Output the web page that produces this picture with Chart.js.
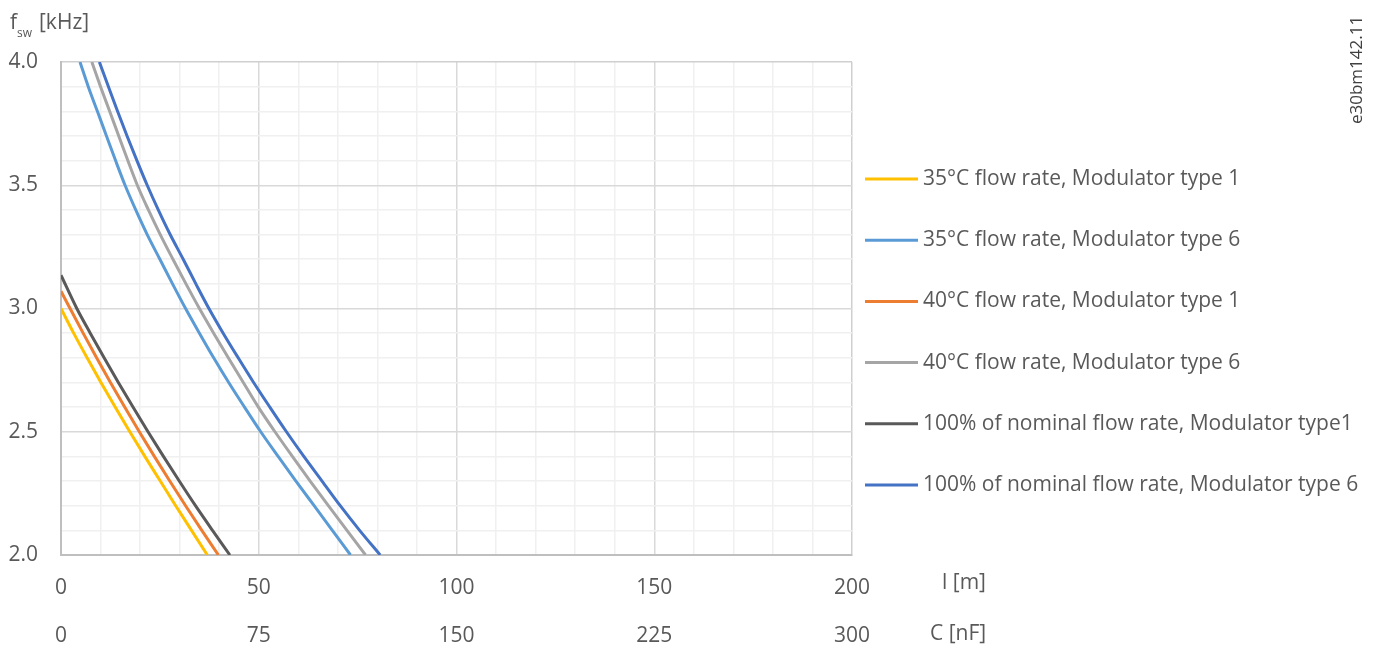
<!DOCTYPE html>
<html>
<head>
<meta charset="utf-8">
<script src="https://cdn.jsdelivr.net/npm/chart.js@4.4.0/dist/chart.umd.min.js"></script>
<style>
  html, body { margin: 0; padding: 0; background: #fff; }
  #wrap { width: 1387px; height: 648px; }
</style>
</head>
<body>
<div id="wrap"><canvas id="chart" width="1387" height="648"></canvas></div>
<script>
// switching frequency [kHz] vs. motor cable length [m]

// upper group (modulator type 6), all start at the 4.0 kHz edge
const fswUpper = [4.0, 3.9, 3.8, 3.7, 3.6, 3.5, 3.4, 3.3, 3.2, 3.1, 3.0, 2.9, 2.8, 2.7, 2.6, 2.5, 2.4, 2.3, 2.2, 2.1, 2.0];
const len35Mod6 = [4.8, 6.9, 9.2, 11.5, 13.8, 16.2, 18.9, 21.8, 25.0, 28.2, 31.5, 35.0, 38.6, 42.4, 46.4, 50.5, 54.9, 59.4, 64.0, 68.6, 73.2];
const len40Mod6 = [7.8, 10.0, 12.3, 14.6, 16.9, 19.3, 22.1, 25.1, 28.3, 31.6, 35.0, 38.6, 42.3, 46.1, 49.9, 54.1, 58.5, 63.0, 67.6, 72.3, 77.0];
const lenNomMod6 = [9.7, 12.0, 14.3, 16.7, 19.2, 21.8, 24.6, 27.6, 30.9, 34.1, 37.4, 41.0, 44.8, 48.7, 52.8, 57.0, 61.4, 66.0, 70.6, 75.5, 80.7];

// lower group (modulator type 1), start on the 0 m axis
const fsw35Mod1 = [3.0, 2.9, 2.8, 2.7, 2.6, 2.5, 2.4, 2.3, 2.2, 2.1, 2.0];
const len35Mod1 = [0, 3.2, 6.6, 10.1, 13.7, 17.4, 21.2, 25.1, 29.0, 33.0, 37.0];
const fsw40Mod1 = [3.07, 3.0, 2.9, 2.8, 2.7, 2.6, 2.5, 2.4, 2.3, 2.2, 2.1, 2.0];
const len40Mod1 = [0, 2.3, 5.6, 9.0, 12.5, 16.1, 19.8, 23.6, 27.5, 31.5, 35.6, 39.8];
const fswNomMod1 = [3.135, 3.0, 2.9, 2.8, 2.7, 2.6, 2.5, 2.4, 2.3, 2.2, 2.1, 2.0];
const lenNomMod1 = [0, 4.0, 7.4, 10.9, 14.5, 18.2, 22.0, 25.9, 29.9, 34.0, 38.3, 42.7];

const seriesLabels = [
  '35°C flow rate, Modulator type 1',
  '35°C flow rate, Modulator type 6',
  '40°C flow rate, Modulator type 1',
  '40°C flow rate, Modulator type 6',
  '100% of nominal flow rate, Modulator type1',
  '100% of nominal flow rate, Modulator type 6'
];
const seriesColors = ['#FFC000', '#5B9BD5', '#ED7D31', '#A5A5A5', '#595959', '#4472C4'];

// axis ranges
const lengthTicks = [0, 50, 100, 150, 200];     // l [m]
const capTicks = [0, 75, 150, 225, 300];        // C [nF]
const fswTicks = [2.0, 2.5, 3.0, 3.5, 4.0];

const FONT = "'Open Sans', 'Noto Sans', sans-serif";
const TEXT = '#595959';

function pairs(xs, ys) {
  return xs.map((x, i) => ({ x: x, y: ys[i] }));
}

const seriesData = [
  pairs(len35Mod1, fsw35Mod1),
  pairs(len35Mod6, fswUpper),
  pairs(len40Mod1, fsw40Mod1),
  pairs(len40Mod6, fswUpper),
  pairs(lenNomMod1, fswNomMod1),
  pairs(lenNomMod6, fswUpper)
];

// texts around the plot: axis titles, legend, drawing number
const decorations = {
  id: 'decorations',
  afterDraw(chart) {
    const ctx = chart.ctx;
    const area = chart.chartArea;
    ctx.save();
    ctx.fillStyle = TEXT;
    ctx.textBaseline = 'alphabetic';

    // y title f_sw [kHz]
    ctx.textAlign = 'left';
    ctx.font = '21px ' + FONT;
    ctx.fillText('f', 10, 29);
    ctx.font = '12px ' + FONT;
    ctx.fillText('sw', 17, 37);
    ctx.font = '21px ' + FONT;
    ctx.fillText('[kHz]', 39, 29);

    // unit labels next to the two x rows
    ctx.textBaseline = 'middle';
    ctx.fillText('l [m]', area.right + 90, 583);
    ctx.fillText('C [nF]', area.right + 78, 634);

    // legend
    const ds = chart.data.datasets;
    for (let i = 0; i < ds.length; i++) {
      const y = 179 + i * 61.2;
      ctx.strokeStyle = ds[i].borderColor;
      ctx.lineWidth = 3;
      ctx.beginPath();
      ctx.moveTo(area.right + 13, y);
      ctx.lineTo(area.right + 66, y);
      ctx.stroke();
      ctx.fillText(ds[i].label, area.right + 71, y);
    }

    // drawing number, rotated
    ctx.translate(1357, 70);
    ctx.rotate(-Math.PI / 2);
    ctx.textAlign = 'center';
    ctx.font = '17px ' + FONT;
    ctx.fillStyle = '#404040';
    ctx.fillText('e30bm142.11', 0, 0);
    ctx.restore();
  }
};

new Chart(document.getElementById('chart'), {
  type: 'line',
  data: {
    datasets: seriesLabels.map((label, i) => ({
      label: label,
      data: seriesData[i],
      borderColor: seriesColors[i],
      backgroundColor: seriesColors[i],
      borderWidth: 3,
      pointRadius: 0,
      fill: false,
      cubicInterpolationMode: 'monotone',
      xAxisID: 'x',
      yAxisID: 'y'
    }))
  },
  options: {
    responsive: false,
    animation: false,
    layout: { padding: { top: 62, right: 535, bottom: 0, left: 0 } },
    plugins: {
      legend: { display: false },
      tooltip: { enabled: false }
    },
    scales: {
      x: {
        type: 'linear',
        position: 'bottom',
        weight: 0,
        min: lengthTicks[0],
        max: lengthTicks[lengthTicks.length - 1],
        afterFit: s => { s.height = 48; },
        border: { color: '#bfbfbf', width: 2 },
        grid: {
          drawTicks: false,
          lineWidth: 1.5,
          color: c => {
            const v = c.tick ? c.tick.value : 0;
            if (v === lengthTicks[lengthTicks.length - 1]) return '#cfcfcf';
            return v % 50 === 0 ? '#d9d9d9' : '#f0f0f0';
          }
        },
        ticks: {
          stepSize: 10,
          padding: 20,
          color: TEXT,
          font: { family: FONT, size: 21 },
          maxRotation: 0,
          autoSkip: false,
          callback: v => (lengthTicks.includes(v) ? String(v) : '')
        }
      },
      x2: {
        type: 'linear',
        position: 'bottom',
        weight: 1,
        min: capTicks[0],
        max: capTicks[capTicks.length - 1],
        afterFit: s => { s.height = 45; },
        border: { display: false },
        grid: { display: false, drawTicks: false },
        ticks: {
          stepSize: 75,
          padding: 20,
          color: TEXT,
          font: { family: FONT, size: 21 },
          maxRotation: 0,
          autoSkip: false
        }
      },
      y: {
        type: 'linear',
        min: fswTicks[0],
        max: fswTicks[fswTicks.length - 1],
        afterFit: s => { s.width = 61; },
        border: { color: '#bfbfbf', width: 2 },
        grid: {
          drawTicks: false,
          lineWidth: 1.5,
          color: c => {
            const v = c.tick ? Math.round(c.tick.value * 10) : 0;
            if (v === 40) return '#cfcfcf';
            return v % 5 === 0 ? '#d9d9d9' : '#f0f0f0';
          }
        },
        ticks: {
          stepSize: 0.1,
          padding: 23,
          color: TEXT,
          font: { family: FONT, size: 21 },
          autoSkip: false,
          callback: v => (Math.round(v * 10) % 5 === 0 ? v.toFixed(1) : '')
        }
      }
    }
  },
  plugins: [decorations]
});
</script>
</body>
</html>
